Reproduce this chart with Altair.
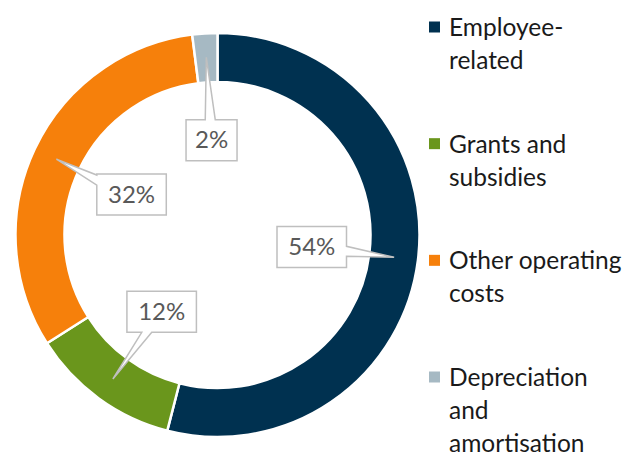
import altair as alt
import pandas as pd

categories = ["Employee-related", "Grants and subsidies", "Other operating costs", "Depreciation and amortisation"]
legend_lines = [["Employee-", "related"], ["Grants and", "subsidies"], ["Other operating", "costs"],
                ["Depreciation", "and", "amortisation"]]
shares = [54, 12, 32, 2]
labels = ["54%", "12%", "32%", "2%"]
colors = ["#003150", "#6a961c", "#f6800b", "#a6b9c3"]

W, H = 624, 448
CX, CY = 209.5, 227
R_OUT, R_IN = 202, 153
R_LABEL, R_TIP = 95, 178

df = pd.DataFrame({
    "cat": categories,
    "share": shares,
    "label": labels,
    "order": list(range(len(categories))),
    "lines": legend_lines,
})

base = alt.Chart(df)

arcs = base.mark_arc(outerRadius=R_OUT, innerRadius=R_IN, stroke="white", strokeWidth=2.5).encode(
    theta=alt.Theta("share:Q", stack=True),
    order=alt.Order("order:Q"),
    color=alt.Color("cat:N", scale=alt.Scale(domain=categories, range=colors), legend=None),
    x=alt.value(CX),
    y=alt.value(CY),
)


def poly(pts):
    return "'M'+" + "+'L'+".join(f"({x})+','+({y})" for x, y in pts) + "+'Z'"


hw, hh, ux, uy, ix, iy = "datum.hw", "datum.hh", "datum.ux", "datum.uy", "datum.ix", "datum.iy"
path_R = poly([(f"-{hw}", f"-{hh}"), (hw, f"-{hh}"), (hw, f"{iy}-5"), (ux, uy), (hw, f"{iy}+5"), (hw, hh), (f"-{hw}", hh)])
path_L = poly([(f"-{hw}", f"-{hh}"), (hw, f"-{hh}"), (hw, hh), (f"-{hw}", hh), (f"-{hw}", f"{iy}+5"), (ux, uy), (f"-{hw}", f"{iy}-5")])
path_T = poly([(f"-{hw}", f"-{hh}"), (f"{ix}-5", f"-{hh}"), (ux, uy), (f"{ix}+5", f"-{hh}"), (hw, f"-{hh}"), (hw, hh), (f"-{hw}", hh)])
path_B = poly([(f"-{hw}", f"-{hh}"), (hw, f"-{hh}"), (hw, hh), (f"{ix}+5", hh), (ux, uy), (f"{ix}-5", hh), (f"-{hw}", hh)])

geo = base.transform_joinaggregate(total="sum(share)").transform_window(
    cum="sum(share)", sort=[alt.SortField("order")], frame=[None, 0]
).transform_calculate(
    ang="2*PI*(datum.cum - datum.share/2)/datum.total"
).transform_calculate(
    px=f"{CX} + {R_LABEL}*sin(datum.ang)",
    py=f"{CY} - {R_LABEL}*cos(datum.ang)",
    ux=f"{R_TIP - R_LABEL}*sin(datum.ang)",
    uy=f"-{R_TIP - R_LABEL}*cos(datum.ang)",
    hw="(14 + 18.5*length(datum.label))/2",
    hh="20.5",
).transform_calculate(
    side="abs(datum.ux)*datum.hh >= abs(datum.uy)*datum.hw ? (datum.ux > 0 ? 'R' : 'L') : (datum.uy > 0 ? 'B' : 'T')",
    iy="clamp(datum.uy*datum.hw/max(abs(datum.ux),0.001), -datum.hh+6, datum.hh-6)",
    ix="clamp(datum.ux*datum.hh/max(abs(datum.uy),0.001), -datum.hw+6, datum.hw-6)",
).transform_calculate(
    path=f"datum.side == 'R' ? {path_R} : datum.side == 'L' ? {path_L} : datum.side == 'T' ? {path_T} : {path_B}"
)

xs = alt.X("px:Q", scale=alt.Scale(domain=[0, W], nice=False, zero=False), axis=None)
ys = alt.Y("py:Q", scale=alt.Scale(domain=[0, H], nice=False, zero=False, reverse=True), axis=None)

boxes = geo.mark_point(filled=True, fill="white", stroke="#bfbfbf", strokeWidth=1.5, opacity=1, size=4).encode(
    x=xs, y=ys, shape=alt.Shape("path:N", scale=None, legend=None)
)

box_text = geo.mark_text(font="Lato", fontSize=24, color="#595959", baseline="middle", dy=1).encode(
    x=xs, y=ys, text="label:N"
)

ly = alt.Y("cat:N", scale=alt.Scale(domain=categories, type="point", range=[19, 369], padding=0), axis=None)

leg_sq = base.mark_square(size=121, opacity=1).encode(
    x=alt.value(426.5), y=ly,
    color=alt.Color("cat:N", scale=alt.Scale(domain=categories, range=colors), legend=None),
)

leg_txt = base.mark_text(align="left", baseline="alphabetic", dy=9, font="Lato", fontSize=24.5,
                         lineHeight=33, color="#1a1a1a").encode(
    x=alt.value(441), y=ly, text="lines:N"
)

chart = alt.layer(arcs, boxes, box_text, leg_sq, leg_txt).resolve_scale(
    x="independent", y="independent"
).properties(
    width=W, height=H, padding=0, autosize=alt.AutoSizeParams(type="none")
).configure_view(stroke=None)

chart.save("out.html", embed_options={"renderer": "svg", "actions": False})
